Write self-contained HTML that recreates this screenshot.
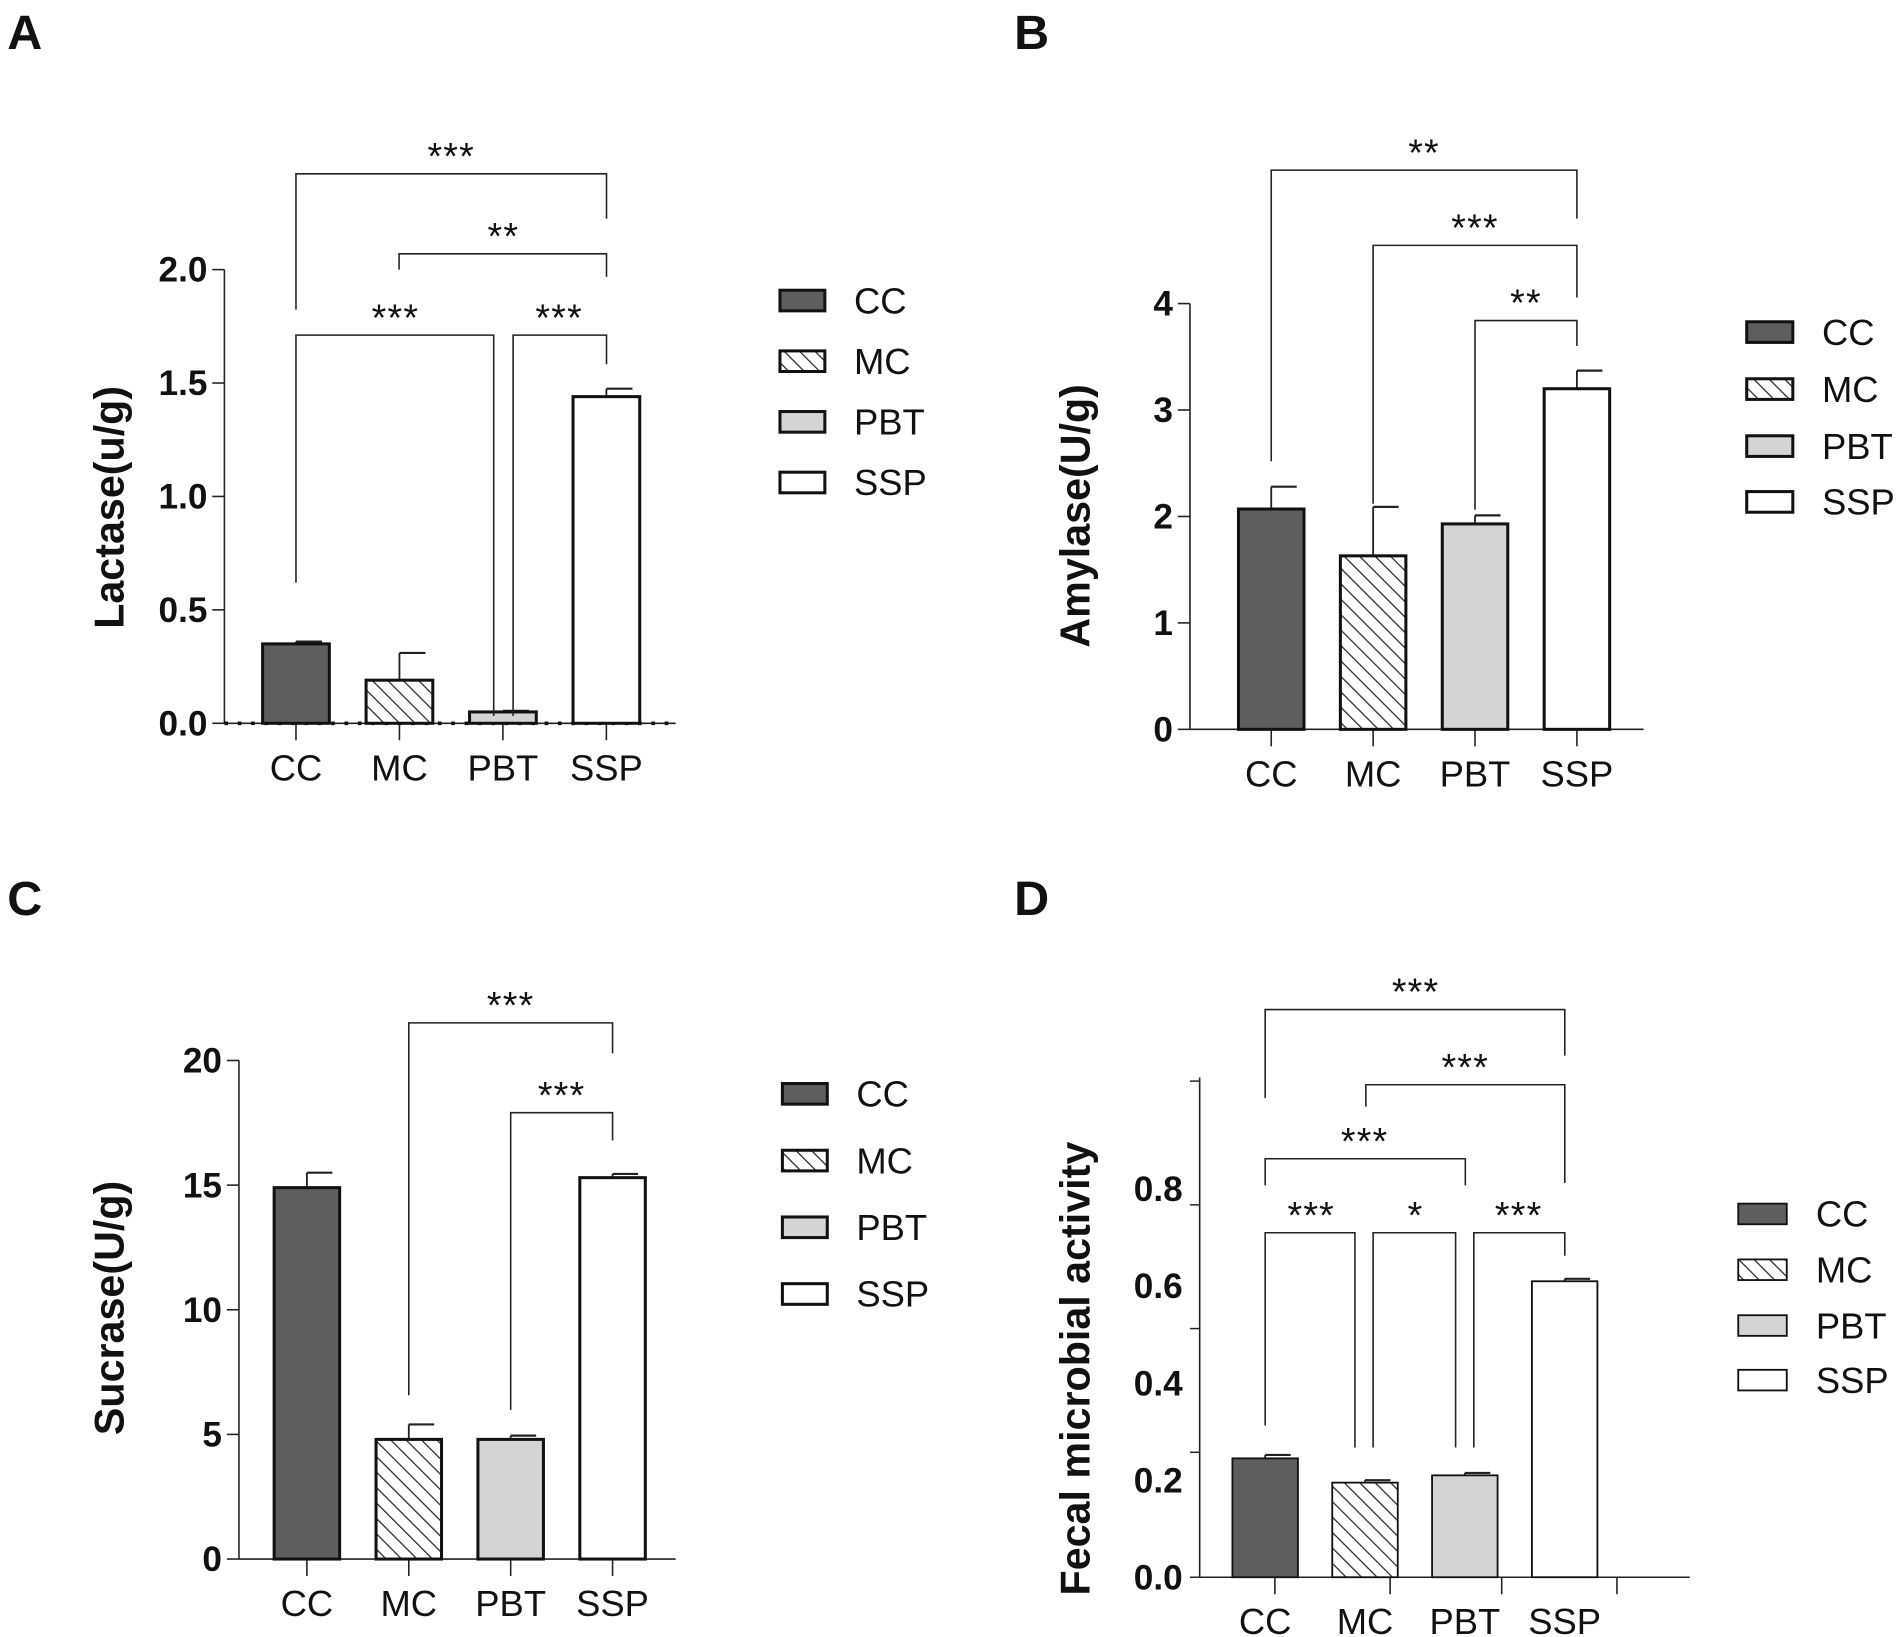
<!DOCTYPE html>
<html><head><meta charset="utf-8"><style>
html,body{margin:0;padding:0;background:#fff}
svg{display:block}
text{font-family:"Liberation Sans",Arial,sans-serif;fill:#111}
</style></head><body>
<svg id="fig" width="1902" height="1637" viewBox="0 0 1568 1349" xmlns="http://www.w3.org/2000/svg">
<defs>
<pattern id="hatch" patternUnits="userSpaceOnUse" width="9" height="9" patternTransform="rotate(-45)">
<rect width="9" height="9" fill="#fff"/><line x1="0" y1="0" x2="0" y2="9" stroke="#222" stroke-width="2"/>
</pattern>
</defs>
</svg>
<script>
const groups = ["CC","MC","PBT","SSP"];
const aValues = [0.35,0.19,0.05,1.44];
const aErrors = [0.36,0.31,0.055,1.475];
const aTicks = [0,0.5,1.0,1.5,2.0];
const aTickLabels = ["0.0","0.5","1.0","1.5","2.0"];
const bValues = [2.07,1.63,1.93,3.2];
const bErrors = [2.28,2.09,2.01,3.37];
const bTicks = [0,1,2,3,4];
const bTickLabels = ["0","1","2","3","4"];
const cValues = [14.9,4.8,4.8,15.3];
const cErrors = [15.5,5.4,4.95,15.45];
const cTicks = [0,5,10,15,20];
const cTickLabels = ["0","5","10","15","20"];
const dValues = [0.245,0.195,0.21,0.61];
const dErrors = [0.252,0.2,0.215,0.615];
const dTicks = [0,0.2,0.4,0.6,0.8];
const dTickLabels = ["0.0","0.2","0.4","0.6","0.8"];

const NS="http://www.w3.org/2000/svg";
const svg=document.getElementById('fig');
function el(tag,attrs,parent,txt){const e=document.createElementNS(NS,tag);for(const k in attrs)e.setAttribute(k,attrs[k]);if(txt!==undefined)e.textContent=txt;(parent||svg).appendChild(e);return e;}
const fills=["#5e5e5e","url(#hatch)","#d4d4d4","#fff"];

function panel(cfg){
  const g=el('g',{});
  
  
  const y=v=>cfg.y0-(v-cfg.vmin)/(cfg.vmax-cfg.vmin)*(cfg.y0-cfg.ytop);
  const lab=el('text',{x:cfg.lx,y:cfg.ly,'font-size':40,'font-weight':'bold'},g,cfg.id);
  
  
  const ya=el('line',{x1:cfg.ax,x2:cfg.ax,y1:cfg.y0,y2:cfg.axTop||y(cfg.vmax),stroke:'#222','stroke-width':1.3},g);
  
  
  cfg.ticks.forEach((t,i)=>{
    const ty=y(t);
    if(!cfg.tickMarks) el('line',{x1:cfg.ax-10,x2:cfg.ax,y1:ty,y2:ty,stroke:'#222','stroke-width':1.3},g);
    const tl=el('text',{x:cfg.ax-14,y:ty+10,'font-size':29,'font-weight':'bold','text-anchor':'end'},g,cfg.tickLabels[i]);
    
    
  });
  if(cfg.tickMarks){[0].concat(cfg.tickMarks).forEach(t=>{const ty=y(t);el('line',{x1:cfg.ax-8,x2:cfg.ax,y1:ty,y2:ty,stroke:'#222','stroke-width':1.2},g);});}
  const xa=el('line',{x1:cfg.ax,x2:cfg.axEnd,y1:cfg.y0,y2:cfg.y0,stroke:'#222','stroke-width':1.3},g);
  
  
  if(cfg.dotted) el('line',{x1:cfg.ax,x2:cfg.axEnd,y1:cfg.y0,y2:cfg.y0,stroke:'#111','stroke-width':3,'stroke-dasharray':'3 8'},g);
  const yl=el('text',{x:cfg.ylx,y:cfg.yly,'font-size':34,'font-weight':'bold','text-anchor':'middle',transform:`rotate(-90 ${cfg.ylx} ${cfg.yly})`},g,cfg.ylabel);
  
  
  groups.forEach((name,i)=>{
    const cx=cfg.cx[0]+i*cfg.step, w=cfg.bw;
    const tx=cfg.xticks?cfg.xticks[i]:cx;
    el('line',{x1:tx,x2:tx,y1:cfg.y0,y2:cfg.y0+14,stroke:'#222','stroke-width':1.3},g);
    const xl=el('text',{x:cx,y:cfg.y0+47,'font-size':30,'text-anchor':'middle'},g,name);
    
    
    const top=y(cfg.values[i]), et=y(cfg.errors[i]);
    el('line',{x1:cx,x2:cx,y1:top,y2:et,stroke:'#222','stroke-width':1.5},g);
    el('line',{x1:cx,x2:cx+w/2-6,y1:et,y2:et,stroke:'#222','stroke-width':1.8},g);
    const b=el('rect',{x:cx-w/2,y:top,width:w,height:cfg.y0-top,fill:fills[i],stroke:'#111','stroke-width':cfg.bstroke||2.5},g);
    
    
    const lb=el('rect',{x:cfg.legX,y:cfg.legY[i]-8,width:cfg.legW,height:17,fill:fills[i],stroke:'#111','stroke-width':cfg.bstroke||2.5},g);
    
    
    const lt=el('text',{x:cfg.legX+cfg.legW+24,y:cfg.legY[i]+11,'font-size':30},g,name);
    
    
  });
  cfg.brackets.forEach(br=>{
    const [x1,x2,by,d1,d2,label,tx]=br;
    const p=el('path',{d:`M${x1} ${d1} V${by} H${x2} V${d2}`,fill:'none',stroke:'#222','stroke-width':1.3},g);
    
    
    const t=el('text',{x:tx!==undefined?tx:(x1+x2)/2,y:by-4,'font-size':31,'text-anchor':'middle','letter-spacing':'1'},g,label);
    
    
  });
}

panel({id:'A',lx:6,ly:40,ax:185,y0:596,ytop:222,vmin:0,vmax:2,ticks:aTicks,tickLabels:aTickLabels,axEnd:557,dotted:true,
  values:aValues,errors:aErrors,cx:[244],step:85.3,bw:55,ylx:102,yly:418,ylabel:'Lactase(u/g)',
  legX:643,legW:37,legY:[247,297,347,397],
  brackets:[[244,500,143,255,180,'***',372],[329,500,209,222,228,'**',415],[244,407,276,480,590,'***',326],[423,500,276,590,300,'***',461]]});
panel({id:'B',lx:836,ly:40,ax:981,y0:601,ytop:250,vmin:0,vmax:4,ticks:bTicks,tickLabels:bTickLabels,axEnd:1355,
  values:bValues,errors:bErrors,cx:[1048],step:84,bw:54,ylx:898,yly:425,ylabel:'Amylase(U/g)',
  legX:1440,legW:38,legY:[273,320,367,413],
  brackets:[[1048,1300,140,380,180,'**',1174],[1132,1300,202,415,245,'***',1216],[1216,1300,264,420,285,'**',1258]]});
panel({id:'C',lx:6,ly:754,ax:197,y0:1285,ytop:874,vmin:0,vmax:20,ticks:cTicks,tickLabels:cTickLabels,axEnd:557,
  values:cValues,errors:cErrors,cx:[253],step:84,bw:54,ylx:102,yly:1078,ylabel:'Sucrase(U/g)',
  legX:645,legW:37,legY:[901,956,1011,1066],
  brackets:[[337,505,843,1150,868,'***',421],[421,505,917,1162,940,'***',463]]});
panel({id:'D',lx:836,ly:754,ax:989,y0:1300,ytop:980,vmin:0,vmax:0.8,ticks:dTicks,tickLabels:dTickLabels,axEnd:1393,axTop:888,
  tickMarks:[0.2575,0.5125,0.7675,1.0225],xticks:[1051,1146,1238,1333],bstroke:1.5,
  values:dValues,errors:dErrors,cx:[1043],step:82.3,bw:54,ylx:898,yly:1128,ylabel:'Fecal microbial activity',
  legX:1433,legW:40,legY:[1000,1046,1092,1137],
  brackets:[[1043,1290,832,905,870,'***',1167],[1126,1290,894,912,975,'***',1208],[1043,1208,955,977,977,'***',1125],
  [1043,1117,1016,1175,1193,'***',1081],[1132,1200,1016,1193,1193,'*',1167],[1215,1290,1016,1193,1035,'***',1252]]});
</script>
</body></html>
